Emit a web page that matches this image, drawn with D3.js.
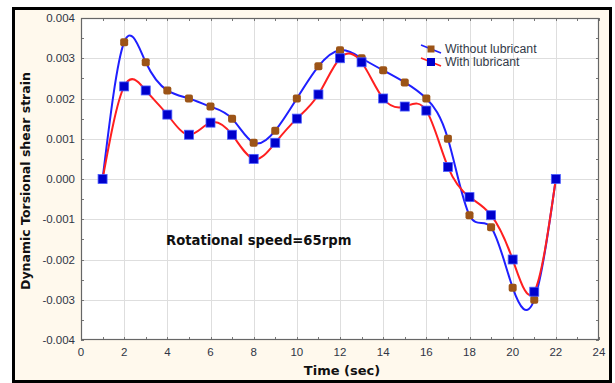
<!DOCTYPE html>
<html>
<head>
<meta charset="utf-8">
<script src="https://cdn.jsdelivr.net/npm/d3@7"></script>
<style>
  body { margin: 0; background: #fff; }
  svg { display: block; font-family: "Liberation Sans", Arial, sans-serif; }
  .title { font-family: "DejaVu Sans", Verdana, sans-serif; font-weight: bold; }
</style>
</head>
<body>
<div class="canvas"></div>
<script>
// data
const times = [1, 2, 3, 4, 5, 6, 7, 8, 9, 10, 11, 12, 13, 14, 15, 16, 17, 18, 19, 20, 21, 22];
const withoutLub = [0, 0.0034, 0.0029, 0.0022, 0.0020, 0.0018, 0.0015, 0.0009, 0.0012, 0.0020, 0.0028,
  0.0032, 0.0030, 0.0027, 0.0024, 0.0020, 0.0010, -0.0009, -0.0012, -0.0027, -0.0030, 0];
const withLub = [0, 0.0023, 0.0022, 0.0016, 0.0011, 0.0014, 0.0011, 0.0005, 0.0009, 0.0015, 0.0021,
  0.0030, 0.0029, 0.0020, 0.0018, 0.0017, 0.0003, -0.00045, -0.0009, -0.0020, -0.0028, 0];
const xTicks = [0, 2, 4, 6, 8, 10, 12, 14, 16, 18, 20, 22, 24];
const yTicks = [-0.004, -0.003, -0.002, -0.001, 0, 0.001, 0.002, 0.003, 0.004];
const seriesNames = ["Without lubricant", "With lubricant"];

const dims = { width: 615, height: 383 };
const plot = { left: 81, top: 18, right: 599, bottom: 340 };

const svg = d3
  .select(".canvas")
  .append("svg")
  .attr("width", dims.width)
  .attr("height", dims.height);

// cream frame with black border
svg.append("rect")
  .attr("x", 13.5).attr("y", 8.5)
  .attr("width", 597).attr("height", 373)
  .attr("fill", "#fff9ed")
  .attr("stroke", "#000")
  .attr("stroke-width", 3);

const x = d3.scaleLinear().domain([0, 24]).range([plot.left, plot.right]);
const y = d3.scaleLinear().domain([-0.004, 0.004]).range([plot.bottom, plot.top]);

// plot background
svg.append("rect")
  .attr("x", plot.left).attr("y", plot.top)
  .attr("width", plot.right - plot.left).attr("height", plot.bottom - plot.top)
  .attr("fill", "#fff");

// grid
const grid = svg.append("g").attr("stroke", "#dedede").attr("stroke-width", 1);
grid.selectAll("line.v").data(xTicks.slice(1, -1)).join("line")
  .attr("x1", (d) => Math.round(x(d)) + 0.5).attr("x2", (d) => Math.round(x(d)) + 0.5)
  .attr("y1", plot.top).attr("y2", plot.bottom);
grid.selectAll("line.h").data(yTicks.slice(1, -1)).join("line")
  .attr("y1", (d) => Math.round(y(d)) + 0.5).attr("y2", (d) => Math.round(y(d)) + 0.5)
  .attr("x1", plot.left).attr("x2", plot.right);

// minor ticks on all four sides
const minorX = d3.range(0, 25, 1);
const minorY = d3.range(-0.004, 0.00401, 0.0005);
const ticks = svg.append("g").attr("stroke", "#777").attr("stroke-width", 1);
ticks.selectAll("line.tb").data(minorX).join("line")
  .attr("x1", (d) => Math.round(x(d)) + 0.5).attr("x2", (d) => Math.round(x(d)) + 0.5)
  .attr("y1", plot.top).attr("y2", plot.top + 3);
ticks.selectAll("line.bb").data(minorX).join("line")
  .attr("x1", (d) => Math.round(x(d)) + 0.5).attr("x2", (d) => Math.round(x(d)) + 0.5)
  .attr("y1", plot.bottom).attr("y2", plot.bottom - 3);
ticks.selectAll("line.lb").data(minorY).join("line")
  .attr("y1", (d) => Math.round(y(d)) + 0.5).attr("y2", (d) => Math.round(y(d)) + 0.5)
  .attr("x1", plot.left).attr("x2", plot.left + 3);
ticks.selectAll("line.rb").data(minorY).join("line")
  .attr("y1", (d) => Math.round(y(d)) + 0.5).attr("y2", (d) => Math.round(y(d)) + 0.5)
  .attr("x1", plot.right).attr("x2", plot.right - 3);

// plot frame
svg.append("rect")
  .attr("x", plot.left + 0.5).attr("y", plot.top + 0.5)
  .attr("width", plot.right - plot.left - 1).attr("height", plot.bottom - plot.top - 1)
  .attr("fill", "none")
  .attr("stroke", "#666")
  .attr("stroke-width", 1.2);

// axes labels
const labelColor = "#2f3545";
svg.append("g").selectAll("text").data(xTicks).join("text")
  .attr("x", (d) => x(d)).attr("y", 356)
  .attr("text-anchor", "middle")
  .attr("font-size", 11.5)
  .attr("fill", labelColor)
  .text((d) => d);
svg.append("g").selectAll("text").data(yTicks).join("text")
  .attr("x", 75).attr("y", (d) => y(d) + 4)
  .attr("text-anchor", "end")
  .attr("font-size", 11.5)
  .attr("fill", labelColor)
  .text((d) => d3.format(".3f")(d).replace("−", "-"));

svg.append("text")
  .attr("class", "title")
  .attr("x", 342).attr("y", 375)
  .attr("text-anchor", "middle")
  .attr("font-size", 13)
  .attr("fill", "#111")
  .text("Time (sec)");

svg.append("text")
  .attr("class", "title")
  .attr("transform", "translate(30, 181) rotate(-90)")
  .attr("text-anchor", "middle")
  .attr("font-size", 12.5)
  .attr("fill", "#111")
  .text("Dynamic  Torsional shear strain");

svg.append("text")
  .attr("class", "title")
  .attr("x", 166).attr("y", 245)
  .attr("font-size", 13.2)
  .attr("fill", "#111")
  .text("Rotational speed=65rpm");

// lines
const line = (vals) => d3.line()
  .x((d) => x(d))
  .y((d, i) => y(vals[i]))
  .curve(d3.curveNatural)(times);

const graph = svg.append("g");

graph.append("path").attr("d", line(withoutLub))
  .attr("fill", "none").attr("stroke", "#1f1fff").attr("stroke-width", 2);
graph.append("path").attr("d", line(withLub))
  .attr("fill", "none").attr("stroke", "#ff1f1f").attr("stroke-width", 2);

// markers
graph.selectAll("rect.brown").data(times).join("rect")
  .attr("x", (d) => x(d) - 4).attr("y", (d, i) => y(withoutLub[i]) - 4)
  .attr("width", 8).attr("height", 8).attr("rx", 2)
  .attr("fill", "#9c5417");
graph.selectAll("rect.blue").data(times).join("rect")
  .attr("x", (d) => x(d) - 4.5).attr("y", (d, i) => y(withLub[i]) - 4.5)
  .attr("width", 9).attr("height", 9)
  .attr("fill", "#0000cc")
  .attr("stroke", "#4a5cff").attr("stroke-width", 0.8);

// legend
const legend = svg.append("g");
const legendRows = [
  { name: seriesNames[0], line: "#1f1fff", marker: "#9c5417", yy: 49, size: 7 },
  { name: seriesNames[1], line: "#ff1f1f", marker: "#0000cc", yy: 62, size: 8 }
];
legendRows.forEach((r) => {
  legend.append("line")
    .attr("x1", 421).attr("y1", r.yy - 4).attr("x2", 441).attr("y2", r.yy + 4)
    .attr("stroke", r.line).attr("stroke-width", 1.8);
  legend.append("rect")
    .attr("x", 431 - r.size / 2).attr("y", r.yy - r.size / 2)
    .attr("width", r.size).attr("height", r.size)
    .attr("fill", r.marker);
  legend.append("text")
    .attr("x", 445).attr("y", r.yy + 4)
    .attr("font-size", 12.3)
    .attr("fill", "#333a48")
    .text(r.name);
});
</script>
</body>
</html>
